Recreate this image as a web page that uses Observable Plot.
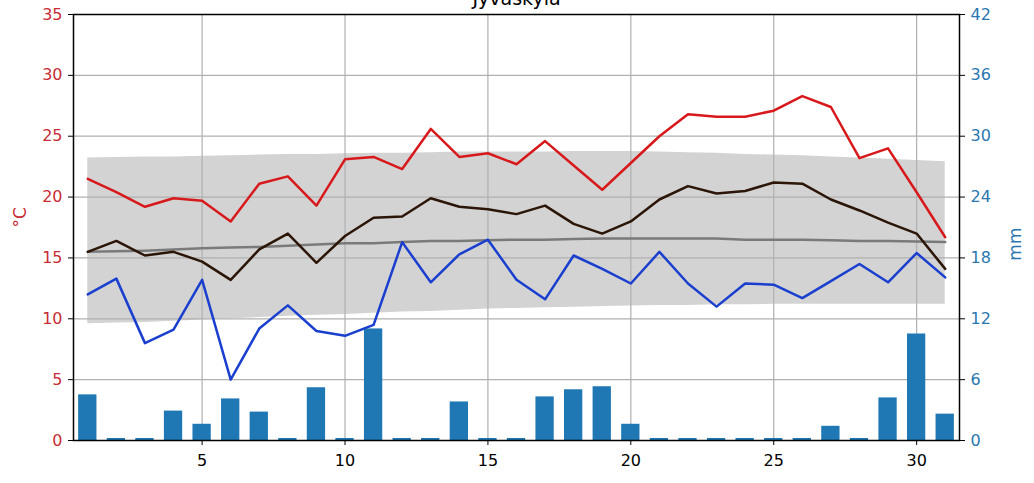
<!DOCTYPE html>
<html><head><meta charset="utf-8">
<script src="https://cdn.jsdelivr.net/npm/d3@7"></script>
<script src="https://cdn.jsdelivr.net/npm/@observablehq/plot@0.6"></script>
<style>body{margin:0;background:#fff;} svg{display:block}</style>
</head><body><div id="chart"></div>
<script>
const title = "Jyväskylä";
const days = [1,2,3,4,5,6,7,8,9,10,11,12,13,14,15,16,17,18,19,20,21,22,23,24,25,26,27,28,29,30,31];
const tmax = [21.5,20.4,19.2,19.9,19.7,18.0,21.1,21.7,19.3,23.1,23.3,22.3,25.6,23.3,23.6,22.7,24.6,22.6,20.6,22.8,25.0,26.8,26.6,26.6,27.1,28.3,27.4,23.2,24.0,20.4,16.7];
const tmean = [15.5,16.4,15.2,15.5,14.7,13.2,15.7,17.0,14.6,16.8,18.3,18.4,19.9,19.2,19.0,18.6,19.3,17.8,17.0,18.0,19.8,20.9,20.3,20.5,21.2,21.1,19.8,18.9,17.9,17.0,14.1];
const tmin = [12.0,13.3,8.0,9.1,13.2,5.0,9.2,11.1,9.0,8.6,9.5,16.3,13.0,15.3,16.5,13.2,11.6,15.2,14.1,12.9,15.5,12.9,11.0,12.9,12.8,11.7,13.1,14.5,13.0,15.4,13.4];
const normMean = [15.5,15.55,15.6,15.7,15.8,15.85,15.9,16.0,16.1,16.2,16.2,16.3,16.4,16.4,16.45,16.5,16.5,16.55,16.6,16.6,16.6,16.6,16.6,16.5,16.5,16.5,16.45,16.4,16.4,16.35,16.3];
const normHigh = [23.2,23.25,23.3,23.3,23.35,23.4,23.45,23.5,23.5,23.55,23.6,23.6,23.65,23.7,23.7,23.7,23.7,23.75,23.75,23.75,23.7,23.65,23.6,23.5,23.45,23.4,23.3,23.2,23.1,23.0,22.9];
const normLow = [9.6,9.65,9.7,9.8,9.9,10.0,10.1,10.2,10.3,10.35,10.45,10.55,10.6,10.7,10.8,10.85,10.9,10.95,11.0,11.05,11.1,11.1,11.15,11.15,11.2,11.2,11.2,11.2,11.2,11.2,11.2];
const precip = [4.5,0.2,0.2,2.9,1.6,4.1,2.8,0.2,5.2,0.2,11.0,0.2,0.2,3.8,0.2,0.2,4.3,5.0,5.3,1.6,0.2,0.2,0.2,0.2,0.2,0.2,1.4,0.2,4.2,10.5,2.6];
const xTicks = [5,10,15,20,25,30];
const tempTicks = [0,5,10,15,20,25,30,35];
const mmTicks = [0,6,12,18,24,30,36,42];
const mmMax = 42, tMax = 35;
const k = tMax / mmMax;

const rows = days.map((d, i) => ({day: d, tmax: tmax[i], tmean: tmean[i], tmin: tmin[i],
  norm: normMean[i], high: normHigh[i], low: normLow[i], precip: precip[i]}));

const chart = Plot.plot({
  width: 1034, height: 483,
  marginLeft: 73, marginRight: 75, marginTop: 14, marginBottom: 43,
  style: {fontFamily: "DejaVu Sans", fontSize: "16px", background: "#fff", overflow: "visible"},
  x: {domain: [0.5, 31.5]},
  y: {domain: [0, tMax]},
  marks: [
    Plot.areaY(rows, {x: "day", y1: "low", y2: "high", fill: "#d3d3d3"}),
    Plot.gridX(xTicks, {stroke: "#b0b0b0", strokeOpacity: 1, strokeWidth: 1.2}),
    Plot.gridY(tempTicks, {stroke: "#b0b0b0", strokeOpacity: 1, strokeWidth: 1.2}),
    Plot.rectY(rows, {x1: d => d.day - 0.32, x2: d => d.day + 0.32, y1: 0, y2: d => d.precip * k, fill: "#1f77b4", inset: 0}),
    Plot.line(rows, {x: "day", y: "norm", stroke: "#7a7a7a", strokeWidth: 2.5}),
    Plot.line(rows, {x: "day", y: "tmax", stroke: "#d7191c", strokeWidth: 2.5}),
    Plot.line(rows, {x: "day", y: "tmean", stroke: "#2b1507", strokeWidth: 2.5}),
    Plot.line(rows, {x: "day", y: "tmin", stroke: "#1a3fcf", strokeWidth: 2.5}),
    Plot.frame({stroke: "black", strokeWidth: 1.5}),
    Plot.axisY(tempTicks, {anchor: "left", tickSize: 5, tickPadding: 6, fill: "#c62d36", stroke: "black", label: null, fontSize: 16}),
    Plot.axisY(mmTicks.map(m => m * k), {anchor: "right", tickSize: 5, tickPadding: 6, fill: "#2a77b0", stroke: "black", label: null, fontSize: 16,
      tickFormat: d => String(Math.round(d / k))}),
    Plot.axisX(xTicks, {anchor: "bottom", tickSize: 5, tickPadding: 9, fill: "black", stroke: "black", label: null, fontSize: 16}),
    Plot.text(["°C"], {frameAnchor: "left", dx: -53, rotate: -90, fill: "#c62d36", fontSize: 17}),
    Plot.text(["mm"], {frameAnchor: "right", dx: 56, rotate: -90, fill: "#2a77b0", fontSize: 17}),
    Plot.text([title], {frameAnchor: "top", dy: -10, lineAnchor: "bottom", fill: "black", fontSize: 19})
  ]
});
document.getElementById("chart").appendChild(chart);
</script>
</body></html>
